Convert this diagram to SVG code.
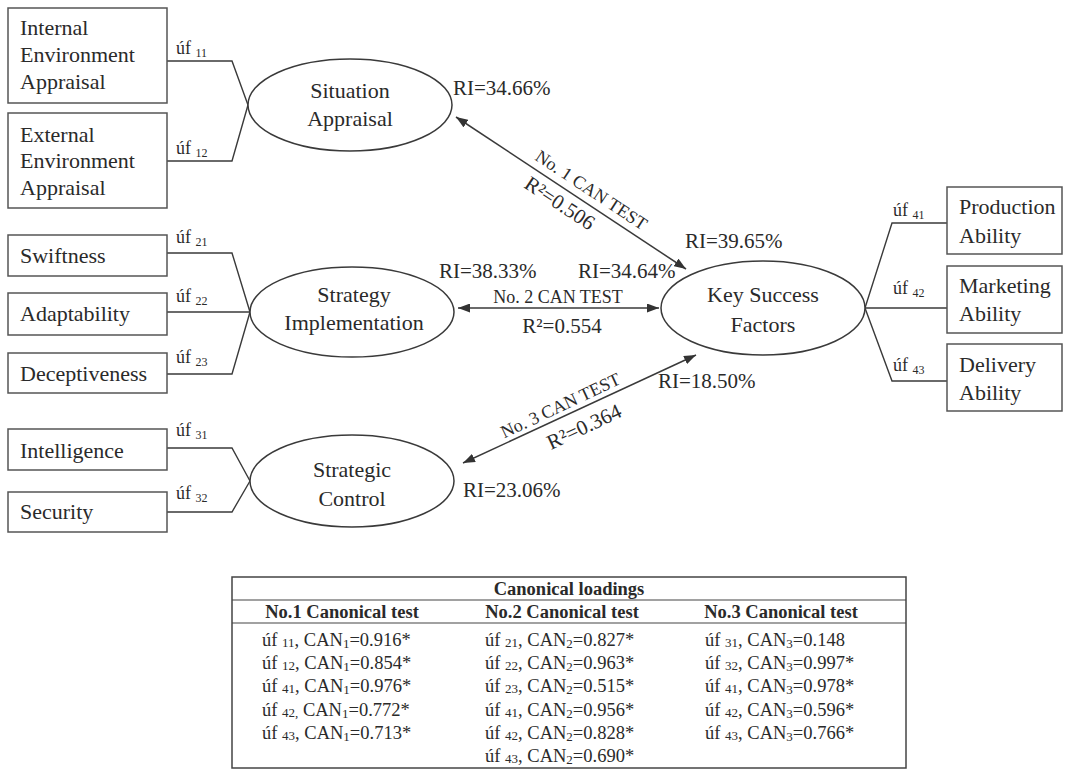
<svg xmlns="http://www.w3.org/2000/svg" width="1066" height="772" viewBox="0 0 1066 772">
<style>
text{font-family:"Liberation Serif","Times New Roman",serif;fill:#2a2a2a}
.bx{fill:#fff;stroke:#555;stroke-width:1.5}
.el{fill:#fff;stroke:#3a3a3a;stroke-width:1.5}
.t{font-size:22px}
.m{font-size:22px;text-anchor:middle}
.lb{font-size:18px}
.sb{font-size:12px}
.ri{font-size:21px}
.ln{fill:none;stroke:#3a3a3a;stroke-width:1.4}
.ar{fill:none;stroke:#3a3a3a;stroke-width:1.5;marker-start:url(#ah);marker-end:url(#ah)}
.cap{font-size:18px;text-anchor:middle}
.tb{font-size:18.5px}
.th{font-size:18.5px;font-weight:bold;text-anchor:middle}
.ts{font-size:13px}
</style>
<defs>
<marker id="ah" viewBox="0 0 12 9" refX="12" refY="4.5" markerWidth="12" markerHeight="9" markerUnits="userSpaceOnUse" orient="auto-start-reverse"><path d="M0,0 L12,4.5 L0,9 z" fill="#333"/></marker>
</defs>
<rect width="1066" height="772" fill="#fff"/>

<g id="connectors">
<path class="ln" d="M167,61 H232 L248,105"/>
<path class="ln" d="M167,161 H232 L248,105"/>
<path class="ln" d="M167,253 H232 L250,312"/>
<path class="ln" d="M167,312 H250"/>
<path class="ln" d="M167,374 H232 L250,312"/>
<path class="ln" d="M167,448 H232 L250,481"/>
<path class="ln" d="M167,512 H232 L250,481"/>
<path class="ln" d="M947,223 H892 L865,308"/>
<path class="ln" d="M947,308 H865"/>
<path class="ln" d="M947,381 H892 L865,308"/>
<line class="ar" x1="456" y1="117" x2="686" y2="269"/>
<line class="ar" x1="458" y1="308" x2="659" y2="308"/>
<line class="ar" x1="463" y1="463" x2="696" y2="355"/>
<text class="cap" transform="translate(588,195) rotate(33.5)">No. 1 CAN TEST</text>
<text class="ri" text-anchor="middle" font-size="20" transform="translate(556,209) rotate(33.5)">R²=0.506</text>
<text class="cap" x="558" y="303">No. 2 CAN TEST</text>
<text class="ri" text-anchor="middle" x="562" y="333">R²=0.554</text>
<text class="cap" transform="translate(563,411) rotate(-25.2)">No. 3 CAN TEST</text>
<text class="ri" text-anchor="middle" transform="translate(587,433) rotate(-25.2)">R²=0.364</text>
<text class="lb" x="176" y="54">úf <tspan class="sb" dy="3">11</tspan></text>
<text class="lb" x="176" y="154">úf <tspan class="sb" dy="3">12</tspan></text>
<text class="lb" x="176" y="243">úf <tspan class="sb" dy="3">21</tspan></text>
<text class="lb" x="176" y="302">úf <tspan class="sb" dy="3">22</tspan></text>
<text class="lb" x="176" y="363">úf <tspan class="sb" dy="3">23</tspan></text>
<text class="lb" x="176" y="436">úf <tspan class="sb" dy="3">31</tspan></text>
<text class="lb" x="176" y="499">úf <tspan class="sb" dy="3">32</tspan></text>
<text class="lb" x="893" y="216">úf <tspan class="sb" dy="3">41</tspan></text>
<text class="lb" x="893" y="294">úf <tspan class="sb" dy="3">42</tspan></text>
<text class="lb" x="893" y="371">úf <tspan class="sb" dy="3">43</tspan></text>
</g>

<g id="internal-env"><rect class="bx" x="8" y="8" width="159" height="95"/>
<text class="t" x="20" y="35">Internal</text><text class="t" x="20" y="62">Environment</text><text class="t" x="20" y="89">Appraisal</text></g>
<g id="external-env"><rect class="bx" x="8" y="113" width="159" height="95"/>
<text class="t" x="20" y="142">External</text><text class="t" x="20" y="168">Environment</text><text class="t" x="20" y="195">Appraisal</text></g>
<g id="swiftness"><rect class="bx" x="8" y="235" width="159" height="41"/><text class="t" x="20" y="263">Swiftness</text></g>
<g id="adaptability"><rect class="bx" x="8" y="293" width="159" height="42"/><text class="t" x="20" y="321">Adaptability</text></g>
<g id="deceptiveness"><rect class="bx" x="8" y="353" width="159" height="40"/><text class="t" x="20" y="381">Deceptiveness</text></g>
<g id="intelligence"><rect class="bx" x="8" y="429" width="159" height="41"/><text class="t" x="20" y="458">Intelligence</text></g>
<g id="security"><rect class="bx" x="8" y="492" width="159" height="40"/><text class="t" x="20" y="519">Security</text></g>

<g id="situation-appraisal"><ellipse class="el" cx="350" cy="105" rx="102" ry="46"/>
<text class="m" x="350" y="98">Situation</text><text class="m" x="350" y="126">Appraisal</text>
<text class="ri" x="453" y="95">RI=34.66%</text></g>
<g id="strategy-implementation"><ellipse class="el" cx="352" cy="312" rx="102" ry="45"/>
<text class="m" x="354" y="302">Strategy</text><text class="m" x="354" y="330">Implementation</text>
<text class="ri" x="439" y="278">RI=38.33%</text></g>
<g id="strategic-control"><ellipse class="el" cx="352" cy="481" rx="102" ry="46"/>
<text class="m" x="352" y="477">Strategic</text><text class="m" x="352" y="506">Control</text>
<text class="ri" x="463" y="497" font-size="19">RI=23.06%</text></g>
<g id="key-success-factors"><ellipse class="el" cx="763" cy="308" rx="102" ry="47"/>
<text class="m" x="763" y="302">Key Success</text><text class="m" x="763" y="332">Factors</text>
<text class="ri" x="685" y="248">RI=39.65%</text>
<text class="ri" x="578" y="278">RI=34.64%</text>
<text class="ri" x="658" y="388">RI=18.50%</text></g>

<g id="production"><rect class="bx" x="947" y="187" width="115" height="67"/>
<text class="t" x="959" y="214">Production</text><text class="t" x="959" y="243">Ability</text></g>
<g id="marketing"><rect class="bx" x="947" y="266" width="115" height="67"/>
<text class="t" x="959" y="293">Marketing</text><text class="t" x="959" y="321">Ability</text></g>
<g id="delivery"><rect class="bx" x="947" y="344" width="115" height="67"/>
<text class="t" x="959" y="372">Delivery</text><text class="t" x="959" y="400">Ability</text></g>

<g id="table">
<rect x="232" y="577" width="674" height="191" fill="#fff" stroke="#444" stroke-width="1.5"/>
<line x1="232" y1="600" x2="906" y2="600" stroke="#444" stroke-width="1.2"/>
<line x1="232" y1="623" x2="906" y2="623" stroke="#444" stroke-width="1.2"/>
<text class="th" x="569" y="595">Canonical loadings</text>
<text class="th" x="342" y="618">No.1 Canonical test</text>
<text class="th" x="562" y="618">No.2 Canonical test</text>
<text class="th" x="781" y="618">No.3 Canonical test</text>
<text class="tb" x="262" y="646">úf <tspan class="ts" dy="1">11</tspan><tspan dy="-1">, CAN</tspan><tspan class="ts" dy="2">1</tspan><tspan dy="-2">=0.916*</tspan></text>
<text class="tb" x="262" y="669">úf <tspan class="ts" dy="1">12</tspan><tspan dy="-1">, CAN</tspan><tspan class="ts" dy="2">1</tspan><tspan dy="-2">=0.854*</tspan></text>
<text class="tb" x="262" y="692">úf <tspan class="ts" dy="1">41</tspan><tspan dy="-1">, CAN</tspan><tspan class="ts" dy="2">1</tspan><tspan dy="-2">=0.976*</tspan></text>
<text class="tb" x="262" y="716">úf <tspan class="ts" dy="1">42,</tspan><tspan dy="-1"> CAN</tspan><tspan class="ts" dy="2">1</tspan><tspan dy="-2">=0.772*</tspan></text>
<text class="tb" x="262" y="739">úf <tspan class="ts" dy="1">43</tspan><tspan dy="-1">, CAN</tspan><tspan class="ts" dy="2">1</tspan><tspan dy="-2">=0.713*</tspan></text>
<text class="tb" x="485" y="646">úf <tspan class="ts" dy="1">21</tspan><tspan dy="-1">, CAN</tspan><tspan class="ts" dy="2">2</tspan><tspan dy="-2">=0.827*</tspan></text>
<text class="tb" x="485" y="669">úf <tspan class="ts" dy="1">22</tspan><tspan dy="-1">, CAN</tspan><tspan class="ts" dy="2">2</tspan><tspan dy="-2">=0.963*</tspan></text>
<text class="tb" x="485" y="692">úf <tspan class="ts" dy="1">23</tspan><tspan dy="-1">, CAN</tspan><tspan class="ts" dy="2">2</tspan><tspan dy="-2">=0.515*</tspan></text>
<text class="tb" x="485" y="716">úf <tspan class="ts" dy="1">41</tspan><tspan dy="-1">, CAN</tspan><tspan class="ts" dy="2">2</tspan><tspan dy="-2">=0.956*</tspan></text>
<text class="tb" x="485" y="739">úf <tspan class="ts" dy="1">42</tspan><tspan dy="-1">, CAN</tspan><tspan class="ts" dy="2">2</tspan><tspan dy="-2">=0.828*</tspan></text>
<text class="tb" x="485" y="762">úf <tspan class="ts" dy="1">43</tspan><tspan dy="-1">, CAN</tspan><tspan class="ts" dy="2">2</tspan><tspan dy="-2">=0.690*</tspan></text>
<text class="tb" x="705" y="646">úf <tspan class="ts" dy="1">31</tspan><tspan dy="-1">, CAN</tspan><tspan class="ts" dy="2">3</tspan><tspan dy="-2">=0.148</tspan></text>
<text class="tb" x="705" y="669">úf <tspan class="ts" dy="1">32</tspan><tspan dy="-1">, CAN</tspan><tspan class="ts" dy="2">3</tspan><tspan dy="-2">=0.997*</tspan></text>
<text class="tb" x="705" y="692">úf <tspan class="ts" dy="1">41</tspan><tspan dy="-1">, CAN</tspan><tspan class="ts" dy="2">3</tspan><tspan dy="-2">=0.978*</tspan></text>
<text class="tb" x="705" y="716">úf <tspan class="ts" dy="1">42</tspan><tspan dy="-1">, CAN</tspan><tspan class="ts" dy="2">3</tspan><tspan dy="-2">=0.596*</tspan></text>
<text class="tb" x="705" y="739">úf <tspan class="ts" dy="1">43</tspan><tspan dy="-1">, CAN</tspan><tspan class="ts" dy="2">3</tspan><tspan dy="-2">=0.766*</tspan></text>
</g>
</svg>
